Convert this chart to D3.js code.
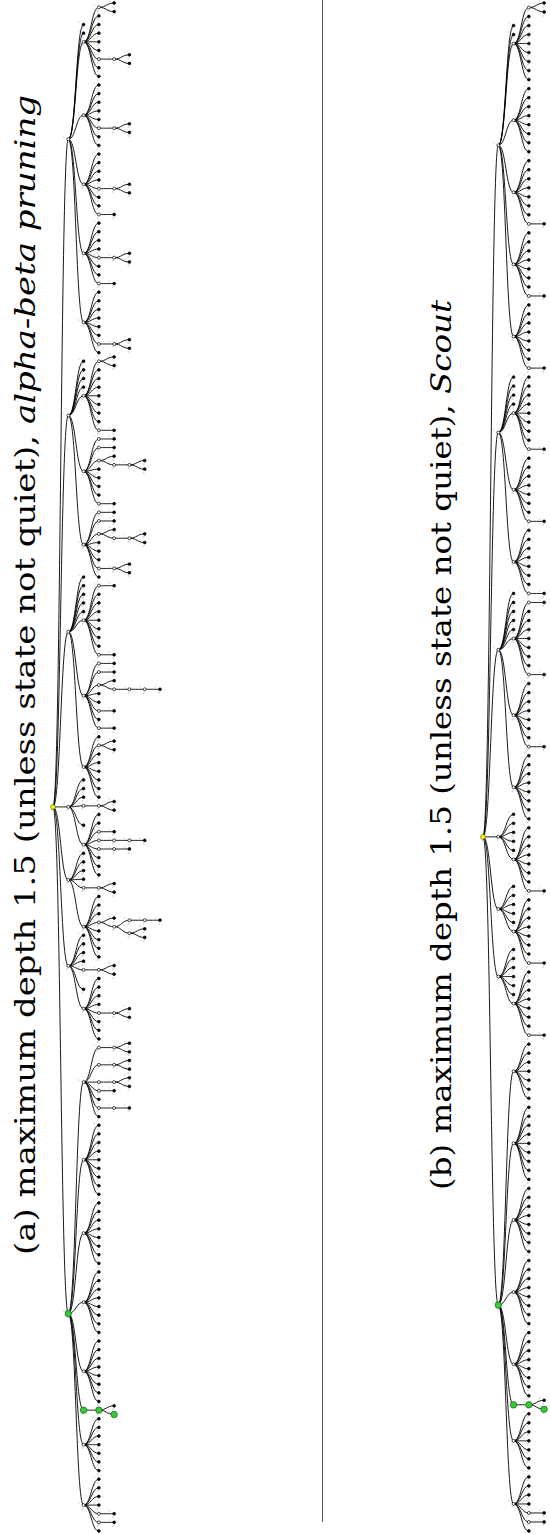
<!DOCTYPE html>
<html>
<head>
<meta charset="utf-8">
<script src="https://cdnjs.cloudflare.com/ajax/libs/d3/7.8.5/d3.min.js"></script>
<style>
  body { margin: 0; background: #fff; }
</style>
</head>
<body>
<div id="chart-area"></div>
<script>
/*
*  Game tree, alpha-beta vs Scout
*  0 = leaf, an array = a node with those children
*/

var width = 550, height = 1534;

// ---- panel (a): alpha-beta pruning ----
var a_h1 = [[0,0],0,0,0,0,0,[[0,0]],0,0];
var a_h2 = [0,0,0,0,0,[[0,0]],0,0];
var a_h3 = [0,0,0,0,[[0,0]],0,0,[0]];
var a_h4 = [0,0,0,0,[[0,0]],0,0,[0]];
var a_h5 = [0,0,0,0,0,0,[[0,0]],0];
var a_b0 = [[0,0],0,0,0,0,0,0,0,[0]];
var a_b1 = [[0],[0],[0,[[0,0]]],0,0,0,0,[0]];
var a_b2 = [[0],[0],[0,[[0,0]]],0,0,0,[[0,0]],0];
var a_c0 = [[0],0,0,0,0,0,0,0,[0]];
var a_c1 = [[0],[0],[0,[[[0]]]],0,0,[0],0,[0]];
var a_c2 = [0,[0,0],0,0,0,0,0,0];
var a_d0 = [0,0,[0],[[[0]]],[[0]],0,0,0];
var a_e0 = [0,0,0,[0,[[[0]],[0,0]]],0,0,0,0];
var a_f0 = [0,0,0,0,[[0,0]],0,0,0];
var a_f1 = [[[0,0]],[[0,0]],[[0,0]],[0],0,[[0]],0];
var a_g0 = [0,0,0,0,0,0,0,0,0];
var a_g1 = [0,0,0,0,0,0,0,0];
var a_g2 = [0,0,0,0,0,0,0,0];
var a_g3 = [0,0,0,0,0,0,0,0];
var a_g4 = [0,0,0,0,0,0,0];
var a_g5 = [0,0,0,0,[0],[0],0];

var treeA = [
  [0,0,a_h1,a_h2,a_h3,a_h4,a_h5],
  [0,0,0,0,a_b0,a_b1,a_b2],
  [0,0,0,0,0,a_c0,a_c1,a_c2],
  [0,0,0,[[0,0]],0,a_d0],
  [0,0,0,0,[[0,0]],a_e0],
  [0,0,0,0,[[0,0]],0,a_f0],
  [a_f1,a_g0,a_g1,a_g2,a_g3,[[0,0]],a_g4,a_g5]
];
var pvA = [6, 5, 0, 1];

// ---- panel (b): Scout ----
var b_h1 = [[0,0],0,0,0,0,0,0,0,0];
var b_h2 = [0,0,0,0,0,0,0,0];
var b_h3 = [0,0,0,0,0,0,0,[0]];
var b_h4 = [0,0,0,0,0,0,0,[0]];
var b_h5 = [0,0,0,0,0,0,0,[0]];
var b_b0 = [0,0,0,0,0,0,0,0,[0]];
var b_b1 = [0,0,0,0,0,0,0,[0]];
var b_b2 = [0,0,0,0,0,0,0,[0]];
var b_c0 = [[0],0,0,0,0,0,0,0,[0]];
var b_c1 = [0,0,0,0,0,0,0,[0]];
var b_c2 = [0,0,0,0,0,0,0,0];
var b_d0 = [0,0,0,0,0,0,0,[0]];
var b_e0 = [0,0,0,0,0,0,0,[0]];
var b_f0 = [0,0,0,0,0,0,0,[0]];
var b_f1 = [0,0,0,0,0,0,0];
var b_g0 = [0,0,0,0,0,0,0,0,0];
var b_g1 = [0,0,0,0,0,0,0,0];
var b_g2 = [0,0,0,0,0,0,0,0];
var b_g3 = [0,0,0,0,0,0,0,0];
var b_g4 = [0,0,0,0,0,0,0];
var b_g5 = [0,0,0,0,[0],[0],0];

var treeB = [
  [0,0,b_h1,b_h2,b_h3,b_h4,b_h5],
  [0,0,0,0,b_b0,b_b1,b_b2],
  [0,0,0,0,0,b_c0,b_c1,b_c2],
  [0,0,0,0,0,b_d0],
  [0,0,0,0,0,b_e0],
  [0,0,0,0,0,0,b_f0],
  [b_f1,b_g0,b_g1,b_g2,b_g3,[[0,0]],b_g4,b_g5]
];
var pvB = [6, 5, 0, 1];

var captions = [
  {lead: "(a) maximum depth 1.5 (unless state not quiet), ", method: "alpha-beta pruning", len: 1160},
  {lead: "(b) maximum depth 1.5 (unless state not quiet), ", method: "Scout", len: 890}
];

var svg = d3.select("#chart-area")
    .append("svg")
    .attr("width", width)
    .attr("height", height);

// depth -> x column, shared by both panels
var colX = d3.scaleLinear().domain([0, 7]).range([53, 160]);
var panelShift = [0, 430];

var link = d3.linkHorizontal();

function toNode(t) {
    return Array.isArray(t) ? { children: t.map(toNode) } : {};
}

function drawPanel(tree, pv, dx) {
    var root = d3.hierarchy(toNode(tree));
    d3.tree().nodeSize([1, 1]).separation(function() { return 1; })(root);

    // first-level moves sit at the mean of their replies, the root at the median
    root.eachAfter(function(d) {
        if (!d.children) return;
        if (d.depth === 1) d.x = d3.mean(d.children, function(c) { return c.x; });
        if (d.depth === 0) d.x = d3.median(d.children, function(c) { return c.x; });
    });

    // mark the principal variation
    var n = root;
    n.pv = true;
    pv.forEach(function(i) { n = n.children[i]; n.pv = true; });

    var nodes = root.descendants();
    var yS = d3.scaleLinear()
        .domain(d3.extent(nodes, function(d) { return d.x; }))
        .range([3, 1531]);

    function px(d) { return colX(d.depth) + dx; }
    function py(d) { return yS(d.x); }

    var g = svg.append("g");

    // tiny edge labels (grey) and node labels (blue)
    g.append("g").selectAll("text")
        .data(root.links())
        .enter().append("text")
            .attr("x", function(d) { return (px(d.source) + px(d.target)) / 2 + 2; })
            .attr("y", function(d) { return py(d.target) - 1.5; })
            .attr("font-size", 2.6)
            .attr("font-family", "DejaVu Sans")
            .attr("fill", "#b0b0b0")
            .text("1");

    g.append("g").selectAll("path")
        .data(root.links())
        .enter().append("path")
            .attr("d", function(d) {
                return link({ source: [px(d.source), py(d.source)], target: [px(d.target), py(d.target)] });
            })
            .attr("fill", "none")
            .attr("stroke", "#000")
            .attr("stroke-width", 0.9);

    g.append("g").selectAll("text")
        .data(nodes.filter(function(d) { return py(d) < 1528; }))
        .enter().append("text")
            .attr("x", function(d) { return px(d) - 2; })
            .attr("y", function(d) { return py(d) + 4.5; })
            .attr("font-size", 2.6)
            .attr("font-family", "DejaVu Sans")
            .attr("fill", "#9999ff")
            .text("0");

    g.append("g").selectAll("circle")
        .data(nodes)
        .enter().append("circle")
            .attr("cx", px)
            .attr("cy", py)
            .attr("r", function(d) {
                if (d.depth === 0) return 2.4;
                if (d.pv) return 3.2;
                return d.children ? 1.5 : 1.4;
            })
            .attr("fill", function(d) {
                if (d.depth === 0) return "#ffff00";
                if (d.pv) return "#33cc33";
                return d.children ? "#fff" : "#000";
            })
            .attr("stroke", function(d) {
                if (d.depth === 0) return "#666600";
                if (d.pv) return "#1d5c1d";
                return "#000";
            })
            .attr("stroke-width", 0.7);
}

drawPanel(treeA, pvA, panelShift[0]);
drawPanel(treeB, pvB, panelShift[1]);

// separator
svg.append("line")
    .attr("x1", 322.5).attr("x2", 322.5)
    .attr("y1", 0).attr("y2", 1522)
    .attr("stroke", "#555")
    .attr("stroke-width", 1);

// rotated captions
var capPos = [{x: 25, y: 675}, {x: 441, y: 745}];
captions.forEach(function(c, i) {
    var t = svg.append("text")
        .attr("transform", "translate(" + capPos[i].x + "," + capPos[i].y + ") rotate(-90)")
        .attr("text-anchor", "middle")
        .attr("dominant-baseline", "central")
        .attr("font-family", "DejaVu Serif")
        .attr("font-size", 28)
        .attr("textLength", c.len)
        .attr("lengthAdjust", "spacingAndGlyphs")
        .attr("fill", "#000");
    t.append("tspan").text(c.lead);
    t.append("tspan").attr("font-style", "italic").text(c.method);
});
</script>
</body>
</html>
